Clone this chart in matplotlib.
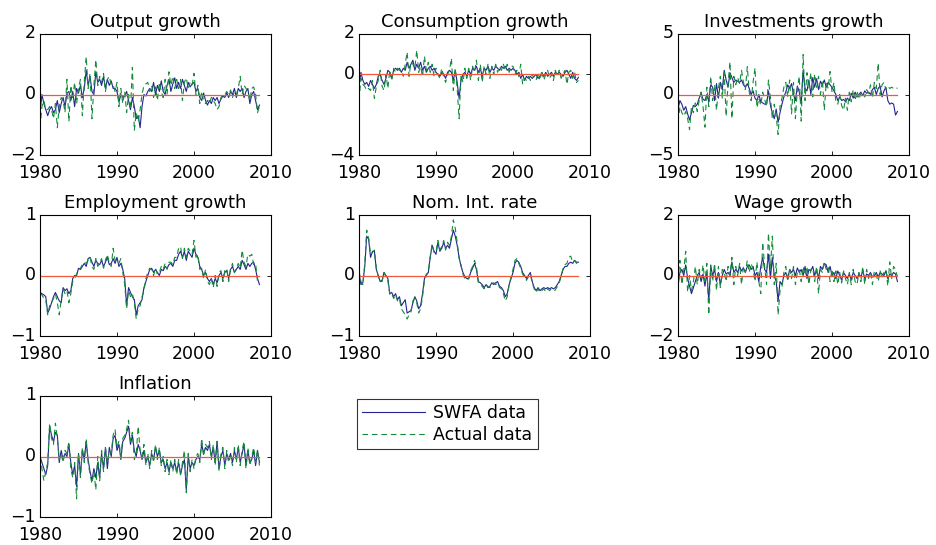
import matplotlib
matplotlib.use("Agg")
import matplotlib.pyplot as plt
import matplotlib.transforms as mtransforms
import numpy as np

# quarterly sample 1980Q1 - 2008Q3
dates = 1980 + 0.25 * np.arange(115)

titles = ["Output growth", "Consumption growth", "Investments growth",
          "Employment growth", "Nom. Int. rate", "Wage growth", "Inflation"]
ylims = [(-2, 2), (-4, 2), (-5, 5), (-1, 1), (-1, 1), (-2, 2), (-1, 1)]

# SWFA (filtered) series
swfa_output = [
    -0.6, 0.0, -0.3, -0.5, -0.7, -0.5, -0.4, -0.6, -0.5, -0.2, -0.6, -0.3,
    -0.1, -0.4, 0.05, 0.1, -0.2, 0.1, -0.4, 0.2, 0.05, 0.3, -0.1, 0.2,
    0.8, 0.3, 0.6, 0.1, 0.0, 0.75, 0.4, 0.5, 0.3, 0.6, 0.2, 0.5,
    0.3, 0.45, 0.2, 0.2, 0.1, -0.25, 0.0, -0.1, -0.05, 0.1, -0.2, -0.5,
    -0.1, -0.4, -0.8, -0.7, -1.1, -0.4, 0.0, -0.05, 0.1, 0.2, 0.1, 0.4,
    0.0, 0.3, 0.1, 0.45, 0.1, 0.0, 0.3, 0.5, 0.1, 0.35, 0.55, 0.2,
    0.4, 0.2, 0.5, 0.3, 0.1, 0.4, 0.25, 0.35, 0.4, 0.1, 0.2, -0.1,
    -0.2, 0.05, -0.2, -0.35, -0.2, -0.3, -0.1, -0.2, -0.1, -0.3, -0.15, -0.05,
    -0.1, 0.05, -0.1, 0.1, 0.0, 0.2, -0.1, 0.2, 0.1, 0.2, -0.1, 0.1,
    0.2, -0.3, 0.0, 0.1, -0.2, -0.5, -0.35]
swfa_cons = [
    -0.6, 0.1, -0.3, -0.5, -0.4, -0.6, -0.3, -0.5, -0.7, -0.5, -0.1, 0.0,
    -0.3, -0.5, -0.2, 0.2, 0.1, -0.2, 0.2, 0.3, 0.2, 0.3, 0.1, 0.3,
    0.2, 0.6, 0.3, 0.5, 0.7, 0.2, 0.5, 0.3, 0.6, 0.2, 0.4, 0.1,
    0.3, 0.4, 0.2, 0.3, 0.1, 0.0, -0.1, 0.1, 0.0, -0.2, 0.1, 0.2,
    0.1, -0.3, 0.2, -0.4, -1.2, -0.3, 0.0, 0.1, -0.1, 0.2, 0.0, 0.3,
    0.2, 0.4, 0.1, 0.3, -0.1, 0.3, 0.2, 0.4, 0.1, 0.3, 0.2, 0.4,
    0.3, 0.2, 0.4, 0.3, 0.4, 0.2, 0.3, 0.2, 0.3, 0.2, 0.0, 0.1,
    -0.2, 0.0, -0.3, -0.1, -0.2, -0.1, -0.2, -0.1, 0.0, -0.2, -0.1, 0.0,
    -0.1, 0.1, -0.1, 0.0, 0.1, -0.1, 0.1, 0.0, 0.1, 0.0, -0.1, 0.1,
    0.2, 0.0, -0.2, 0.1, -0.2, -0.3, -0.15]
swfa_inv = [
    -1.2, -0.5, -0.8, -1.3, -1.0, -1.6, -2.1, -1.5, -0.9, -1.0, -0.8, -0.3,
    0.1, -0.4, -0.5, 0.0, -0.6, 0.8, 0.6, -0.5, 0.9, -0.3, 1.0, 0.4,
    2.0, 1.2, 0.6, 1.8, 1.4, 1.0, 1.2, 1.1, 1.0, 1.2, 0.8, 0.6,
    0.9, 0.5, 0.0, 0.3, -0.3, -0.5, 0.0, -0.6, -0.7, -0.8, -0.8, 0.3,
    -0.9, -1.5, -2.0, -1.2, -2.3, -1.5, -0.8, -0.2, 0.2, 0.8, 0.5, 0.9,
    0.0, -0.5, 0.7, 0.2, -0.8, 2.0, 0.5, 0.3, 1.2, 0.0, 1.4, 0.6,
    1.3, 0.4, 1.1, 0.8, 1.2, 0.6, 1.0, 0.8, 0.6, 0.3, 0.0, -0.5,
    -0.2, -0.5, -0.4, -0.6, -0.3, -0.5, 0.1, -0.3, 0.2, -0.2, 0.0, 0.2,
    -0.1, 0.3, 0.1, 0.2, 0.0, 0.4, 0.6, 0.0, 0.5, 0.7, -0.2, 0.3,
    0.6, -0.5, -0.8, -0.7, -0.8, -1.7, -1.4]
swfa_emp = [
    -0.28, -0.3, -0.32, -0.35, -0.62, -0.55, -0.45, -0.35, -0.28, -0.35, -0.42, -0.45,
    -0.2, -0.25, -0.22, -0.3, -0.25, -0.05, 0.0, 0.0, 0.12, 0.1, 0.15, 0.2,
    0.15, 0.28, 0.3, 0.22, 0.15, 0.25, 0.2, 0.18, 0.25, 0.15, 0.22, 0.3,
    0.18, 0.2, 0.28, 0.2, 0.3, 0.15, 0.2, 0.1, -0.05, -0.5, -0.2, -0.28,
    -0.35, -0.4, -0.65, -0.5, -0.45, -0.4, -0.2, -0.1, 0.0, 0.1, 0.12, 0.05,
    0.1, 0.05, 0.0, 0.1, 0.08, 0.15, 0.12, 0.18, 0.2, 0.15, 0.25, 0.25,
    0.35, 0.4, 0.3, 0.4, 0.25, 0.4, 0.35, 0.3, 0.45, 0.35, 0.3, 0.15,
    0.1, 0.0, 0.05, -0.05, -0.1, -0.05, -0.15, -0.05, -0.12, 0.0, 0.05, -0.05,
    0.05, 0.08, -0.05, 0.1, 0.15, 0.05, 0.1, 0.15, 0.1, 0.25, 0.18, 0.1,
    0.2, 0.15, 0.2, 0.22, 0.1, -0.05, -0.15]
swfa_rate = [
    0.05, -0.15, -0.12, 0.15, 0.65, 0.6, 0.3, 0.4, 0.4, 0.1, 0.0, -0.1,
    -0.08, 0.05, 0.0, -0.05, -0.3, -0.28, -0.35, -0.3, -0.4, -0.35, -0.5, -0.45,
    -0.4, -0.62, -0.6, -0.58, -0.45, -0.35, -0.42, -0.55, -0.5, -0.3, -0.05, 0.02,
    0.05, 0.3, 0.5, 0.4, 0.35, 0.55, 0.4, 0.45, 0.55, 0.45, 0.5, 0.45,
    0.6, 0.75, 0.65, 0.5, 0.3, 0.15, 0.05, -0.02, -0.05, -0.05, 0.05, 0.12,
    0.2, 0.1, -0.1, -0.12, -0.15, -0.2, -0.15, -0.2, -0.18, -0.12, -0.15, -0.12,
    -0.1, -0.18, -0.2, -0.25, -0.35, -0.3, -0.15, -0.05, 0.05, 0.2, 0.25, 0.22,
    0.15, 0.05, 0.0, -0.05, 0.0, 0.05, -0.1, -0.2, -0.25, -0.2, -0.25, -0.22,
    -0.2, -0.22, -0.2, -0.22, -0.2, -0.22, -0.2, -0.15, -0.1, 0.0, 0.1, 0.15,
    0.15, 0.2, 0.22, 0.2, 0.25, 0.22, 0.22]
swfa_wage = [
    -0.35, 0.1, 0.2, 0.0, 0.35, -0.1, -0.35, -0.6, -0.4, -0.2, 0.0, 0.1,
    -0.2, 0.05, -0.35, 0.1, -0.85, 0.3, 0.0, 0.2, -0.2, 0.1, -0.3, 0.0,
    0.2, 0.05, 0.1, 0.0, 0.45, 0.1, 0.2, 0.1, 0.3, 0.15, 0.25, 0.1,
    0.3, 0.35, 0.2, 0.3, 0.0, 0.1, -0.2, 0.3, 0.6, 0.2, 0.1, 0.7,
    -0.1, 0.6, 0.0, -0.2, -0.85, -0.2, -0.3, 0.0, 0.1, -0.1, 0.2, 0.1,
    0.2, 0.0, 0.25, 0.1, 0.2, 0.0, 0.3, -0.1, 0.2, 0.15, 0.3, 0.0,
    0.2, -0.1, 0.3, 0.2, 0.4, 0.35, 0.1, 0.3, 0.0, 0.1, -0.1, 0.15,
    0.0, -0.15, 0.1, 0.0, -0.1, 0.05, -0.15, 0.1, 0.0, -0.1, 0.05, -0.05,
    0.15, -0.1, 0.05, 0.0, 0.1, -0.05, 0.0, 0.1, -0.05, 0.1, 0.05, 0.0,
    0.15, -0.1, 0.05, 0.0, 0.1, 0.05, -0.2]
swfa_infl = [
    0.0, -0.1, -0.2, -0.3, -0.15, 0.5, 0.35, 0.25, 0.4, 0.35, -0.1, 0.1,
    -0.05, 0.05, 0.0, 0.2, -0.1, -0.3, -0.15, -0.5, 0.05, -0.3, 0.1, -0.05,
    0.25, -0.05, -0.25, -0.4, -0.2, -0.35, -0.1, -0.35, 0.05, -0.2, 0.15, -0.2,
    0.15, 0.0, 0.3, 0.35, 0.1, 0.2, -0.05, 0.25, 0.3, 0.4, 0.5, 0.2,
    0.35, 0.1, 0.0, 0.2, 0.1, -0.05, 0.1, -0.1, 0.0, -0.15, 0.05, -0.05,
    0.15, 0.0, 0.1, -0.1, -0.05, -0.2, -0.1, -0.25, -0.1, -0.2, -0.1, -0.25,
    -0.1, -0.3, -0.15, -0.05, -0.55, 0.0, -0.2, -0.1, -0.15, -0.05, 0.0, -0.05,
    0.2, 0.05, 0.15, 0.1, 0.2, 0.0, 0.15, -0.1, 0.25, -0.2, 0.0, 0.1,
    -0.15, 0.05, -0.05, 0.05, -0.1, 0.1, -0.05, 0.15, -0.1, 0.05, 0.2, -0.15,
    0.1, -0.1, -0.05, 0.1, -0.15, 0.1, -0.1]

# actual data
act_output = [
    -1.1, -0.4, -0.2, -0.5, -0.5, -0.4, -0.5, -0.8, -0.3, -1.1, -0.4, -0.1,
    -0.2, -0.6, 0.5, -0.9, 0.3, -0.1, 0.4, -0.3, 0.2, 0.5, -0.7, 0.4,
    1.25, 0.2, 0.7, -0.8, 0.3, 1.15, 0.3, 0.6, 0.4, 0.7, 0.1, 0.5,
    0.6, 0.3, 0.3, 0.1, 0.4, -0.4, 0.2, -0.3, 0.1, -0.6, 0.0, -0.5,
    0.9, -1.2, -0.6, -0.9, -0.5, 0.0, 0.3, 0.35, 0.4, 0.1, 0.3, -0.1,
    0.25, -0.2, 0.4, 0.1, -0.1, 0.5, 0.0, 0.75, 0.3, 0.6, 0.2, 0.5,
    0.2, 0.5, -0.2, 0.4, 0.55, 0.2, 0.4, 0.3, 0.7, 0.0, 0.3, -0.3,
    0.1, -0.2, -0.3, -0.2, -0.3, -0.1, -0.2, -0.3, -0.5, -0.4, -0.1, 0.0,
    0.0, 0.1, 0.0, 0.15, -0.1, 0.1, 0.0, 0.2, 0.6, 0.0, 0.3, 0.2,
    0.1, -0.2, 0.2, 0.25, 0.0, -0.6, -0.4]
act_cons = [
    -1.3, -0.2, -0.5, -0.6, -0.8, -0.7, -0.8, -0.3, -1.2, -0.6, -0.3, 0.2,
    -0.6, -0.8, 0.0, -0.7, 0.2, -0.3, 0.3, 0.1, 0.3, 0.2, 0.2, -0.1,
    0.5, 1.1, -0.1, 0.6, 0.5, 0.3, 1.2, 0.1, 0.4, -0.1, 0.9, 0.2,
    0.6, 0.1, 0.5, -0.1, 0.3, 0.0, -0.2, 0.3, -0.1, -0.4, 0.0, 0.2,
    0.8, -0.8, 0.3, -0.7, -2.2, 0.0, -0.4, 0.3, -0.2, 0.3, -0.3, 0.4,
    0.1, 0.7, -0.3, 0.5, -0.4, 0.4, 0.0, 0.5, -0.2, 0.4, 0.0, 0.5,
    0.1, 0.4, 0.2, 0.5, 0.2, 0.5, 0.1, 0.4, 0.4, 0.0, 0.2, -0.1,
    0.5, -0.5, -0.2, -0.3, -0.1, -0.3, 0.0, -0.2, -0.3, 0.1, -0.3, 0.2,
    -0.3, 0.0, 0.2, -0.2, 0.0, -0.3, 0.2, -0.1, 0.2, -0.2, 0.0, 0.2,
    -0.5, 0.1, 0.2, -0.2, 0.1, -0.4, -0.3]
act_inv = [
    -2.3, -1.0, -1.5, -1.8, -1.4, -2.0, -2.9, -1.0, -1.5, -0.7, -1.4, -0.5,
    0.2, -1.0, -2.7, 0.6, -1.0, 1.5, -0.5, 0.8, -1.3, 0.5, 1.5, -0.3,
    1.8, -1.8, 0.9, 2.7, -2.0, 1.5, 0.8, 1.4, 0.9, 2.0, 1.0, 0.4,
    2.3, 0.2, -0.5, 1.0, 2.2, -1.1, -0.3, -0.9, 0.2, -0.4, -1.0, 1.2,
    -0.2, -2.0, -0.8, -1.8, -3.3, -1.0, -0.3, 0.6, 1.0, -0.2, 1.2, -1.6,
    1.0, -2.0, 0.5, 1.5, -2.2, 3.3, -0.5, 1.8, 0.5, 1.8, -0.2, 1.7,
    0.6, 1.5, 0.0, 1.2, -1.3, 1.0, 0.5, 1.9, 0.2, 1.0, -0.6, -0.8,
    0.0, -0.9, -1.3, -0.3, -1.3, 0.2, -0.6, 0.4, -0.5, 0.3, -0.4, 0.1,
    0.2, -0.2, 0.4, 0.1, 0.8, -0.3, 1.0, 0.5, 2.6, 0.0, 0.8, 1.0,
    0.4, 0.7, 0.5, 0.6, 0.5, 0.6, 0.5]
act_emp = [
    -0.3, -0.32, -0.38, -0.4, -0.65, -0.5, -0.45, -0.38, -0.3, -0.45, -0.65, -0.4,
    -0.22, -0.3, -0.25, -0.45, -0.3, -0.1, -0.05, 0.02, 0.1, 0.12, 0.18, 0.22,
    0.2, 0.25, 0.3, 0.15, 0.1, 0.28, 0.15, 0.2, 0.28, 0.12, 0.25, 0.35,
    0.2, 0.15, 0.45, 0.25, 0.25, 0.2, 0.28, 0.05, -0.15, -0.55, -0.25, -0.35,
    -0.3, -0.45, -0.72, -0.55, -0.5, -0.35, -0.25, -0.05, 0.05, 0.12, 0.1, 0.0,
    0.12, 0.02, 0.05, 0.15, 0.1, 0.2, 0.1, 0.22, 0.22, 0.18, 0.3, 0.3,
    0.45, 0.48, 0.28, 0.45, 0.3, 0.45, 0.4, 0.35, 0.58, 0.3, 0.35, 0.1,
    0.12, -0.05, 0.1, -0.1, -0.15, -0.05, -0.2, 0.0, -0.18, 0.05, 0.08, -0.1,
    0.08, 0.12, -0.1, 0.12, 0.2, 0.05, 0.12, 0.2, 0.12, 0.42, 0.22, 0.15,
    0.35, 0.32, 0.35, 0.18, 0.2, -0.1, -0.12]
act_rate = [
    0.08, -0.1, -0.15, 0.2, 0.75, 0.62, 0.35, 0.38, 0.42, 0.12, -0.02, -0.1,
    -0.1, 0.05, -0.02, -0.08, -0.32, -0.3, -0.38, -0.32, -0.42, -0.38, -0.55, -0.6,
    -0.65, -0.72, -0.65, -0.6, -0.42, -0.38, -0.45, -0.62, -0.55, -0.35, -0.08, 0.0,
    0.05, 0.32, 0.52, 0.38, 0.38, 0.58, 0.42, 0.48, 0.58, 0.42, 0.55, 0.5,
    0.65, 0.92, 0.78, 0.55, 0.28, 0.18, 0.02, -0.05, -0.08, -0.05, 0.08, 0.15,
    0.25, 0.15, -0.12, -0.15, -0.18, -0.22, -0.15, -0.18, -0.2, -0.15, -0.12, -0.15,
    -0.12, -0.2, -0.22, -0.3, -0.42, -0.35, -0.15, -0.02, 0.1, 0.25, 0.28, 0.2,
    0.12, 0.02, -0.02, -0.08, -0.02, 0.02, -0.12, -0.22, -0.28, -0.22, -0.28, -0.25,
    -0.22, -0.27, -0.22, -0.25, -0.22, -0.25, -0.24, -0.18, -0.12, -0.02, 0.12, 0.18,
    0.2, 0.3, 0.32, 0.22, 0.25, 0.2, 0.22]
act_wage = [
    -0.2, 0.5, -0.3, 0.2, 0.8, -0.55, 0.0, -0.5, -0.2, 0.3, -0.3, 0.2,
    -0.1, 0.35, -0.2, 0.4, -1.3, 0.35, -0.2, 0.4, -0.5, 0.3, -0.4, 0.2,
    0.1, -0.2, 0.3, 0.0, 0.6, -0.3, 0.3, 0.0, 0.4, -0.3, 0.3, 0.1,
    0.5, 0.1, 0.4, 0.2, -0.2, 0.45, -0.2, -0.6, 1.1, 0.3, -0.3, 1.4,
    0.2, 1.3, -0.3, 0.4, -1.3, -0.5, -0.4, 0.1, 0.3, -0.2, 0.2, -0.1,
    0.3, -0.3, 0.1, 0.2, -0.2, 0.3, 0.0, 0.3, -0.3, 0.2, 0.25, -0.2,
    0.3, -0.6, 0.2, 0.1, 0.45, 0.2, 0.3, -0.2, 0.2, -0.2, 0.15, -0.3,
    0.1, -0.25, 0.15, -0.1, -0.3, 0.1, -0.3, 0.2, -0.2, -0.3, 0.1, -0.2,
    0.3, -0.3, 0.2, -0.1, 0.1, -0.3, 0.15, 0.0, -0.2, 0.15, -0.1, 0.1,
    0.2, -0.35, 0.45, -0.1, 0.3, 0.2, -0.05]
act_infl = [
    0.0, -0.2, -0.4, -0.25, -0.1, 0.55, 0.3, 0.2, 0.55, 0.3, -0.05, 0.05,
    -0.1, 0.1, 0.05, 0.25, -0.2, -0.35, -0.1, -0.7, 0.05, -0.35, 0.15, -0.1,
    0.3, -0.1, -0.3, -0.45, -0.25, -0.55, 0.0, -0.4, 0.1, -0.25, 0.15, -0.1,
    0.1, 0.05, 0.35, 0.45, 0.15, 0.25, 0.0, 0.3, 0.35, 0.45, 0.6, 0.25,
    0.4, -0.05, 0.05, 0.5, 0.1, 0.0, 0.2, -0.15, 0.05, -0.2, 0.1, -0.1,
    0.2, -0.05, 0.15, -0.15, 0.0, -0.25, -0.05, -0.3, -0.05, -0.25, -0.05, -0.3,
    -0.05, -0.3, -0.1, 0.1, -0.6, 0.05, -0.25, -0.05, -0.2, 0.0, 0.05, -0.1,
    0.3, 0.0, 0.2, 0.15, 0.25, -0.05, 0.2, -0.15, 0.25, -0.25, 0.05, 0.15,
    -0.2, 0.1, -0.1, 0.0, -0.15, 0.15, -0.1, 0.2, -0.15, 0.1, 0.25, -0.2,
    0.15, -0.15, 0.0, 0.15, -0.1, 0.1, -0.15]

swfa = [swfa_output, swfa_cons, swfa_inv, swfa_emp, swfa_rate, swfa_wage, swfa_infl]
actual = [act_output, act_cons, act_inv, act_emp, act_rate, act_wage, act_infl]

BLUE = "#24248f"
GREEN = "#138a3c"
RED = "#f05a3a"

W, H = 936, 545
fig = plt.figure(figsize=(W / 100, H / 100), dpi=100)

col_left = [40, 359, 678]
row_top = [34, 215, 396]
ax_w, ax_h = 231, 121

# nudge y tick labels up a touch so they clear the year labels
lift = mtransforms.ScaledTranslation(0, 2.5 / 100, fig.dpi_scale_trans)

for k in range(7):
    r, c = divmod(k, 3)
    ax = fig.add_axes([col_left[c] / W, 1 - (row_top[r] + ax_h) / H, ax_w / W, ax_h / H])
    l1, = ax.plot(dates, swfa[k], color=BLUE, lw=0.8)
    l2, = ax.plot(dates, actual[k], color=GREEN, lw=0.8, dashes=(5, 3.5))
    ax.plot([dates[0], dates[-1]], [0, 0], color=RED, lw=0.9)
    lo, hi = ylims[k]
    ax.set_ylim(lo, hi)
    ax.set_yticks([lo, 0, hi])
    ax.set_xlim(1980, 2010)
    ax.set_xticks([1980, 1990, 2000, 2010])
    ax.tick_params(direction="in", top=True, right=True, length=3, width=0.6,
                   labelsize=12.5)
    ax.tick_params(axis="x", pad=6.5)
    ax.tick_params(axis="y", pad=3)
    for lab in ax.get_yticklabels():
        lab.set_transform(lab.get_transform() + lift)
    for s in ax.spines.values():
        s.set_linewidth(0.8)
    ax.set_title(titles[k], fontsize=13, pad=5)

leg = fig.legend([l1, l2], ["SWFA data", "Actual data"], loc="upper left",
                 bbox_to_anchor=(357 / W, 1 - 399 / H), fontsize=12.5,
                 frameon=True, fancybox=False, handlelength=3.6,
                 handletextpad=0.5, labelspacing=0.2, borderpad=0.3,
                 borderaxespad=0)
leg.get_frame().set_edgecolor("black")
leg.get_frame().set_linewidth(0.8)

fig.savefig("out.png", dpi=100)
